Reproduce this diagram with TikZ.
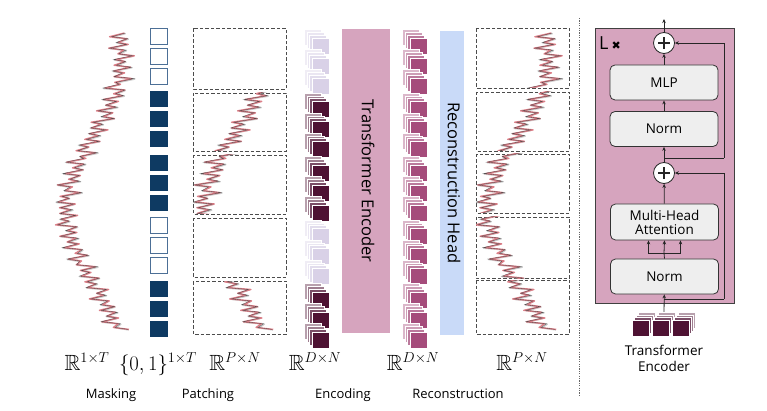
\documentclass[tikz,border=0pt]{standalone}
\usepackage{amssymb}
\usepackage{fontspec}
\setmainfont{Open Sans}
\newfontfamily\djv{DejaVu Sans}
\usetikzlibrary{arrows.meta}
\definecolor{maskblue}{HTML}{0E3A62}
\definecolor{maskedge}{HTML}{4C6F96}
\definecolor{cubedark}{HTML}{4E1233}
\definecolor{cubelight}{HTML}{D9D1E7}
\definecolor{cuberec}{HTML}{A54C7B}
\definecolor{encpink}{HTML}{D6A4BE}
\definecolor{headblue}{HTML}{C9DAF8}
\definecolor{boxgray}{HTML}{EEEEEE}
\definecolor{sigred}{HTML}{DC7F88}
\newcommand\cubestack[3]{%
  \filldraw[fill=#3!40, draw=white, line width=0.4pt] (#1-7.5,#2-8.4) rectangle ++(17,16);
  \filldraw[fill=#3!55, draw=white, line width=0.4pt] (#1-5,#2-5.6) rectangle ++(17,16);
  \filldraw[fill=#3!75, draw=white, line width=0.4pt] (#1-2.5,#2-2.8) rectangle ++(17,16);
  \filldraw[fill=#3, draw=white, line width=0.4pt] (#1,#2) rectangle ++(17,16);}
\newcommand\cubestackR[3]{%
  \filldraw[fill=#3!40, draw=white, line width=0.4pt] (#1+6,#2-7.5) rectangle ++(17,16);
  \filldraw[fill=#3!55, draw=white, line width=0.4pt] (#1+4,#2-5) rectangle ++(17,16);
  \filldraw[fill=#3!75, draw=white, line width=0.4pt] (#1+2,#2-2.5) rectangle ++(17,16);
  \filldraw[fill=#3, draw=white, line width=0.4pt] (#1,#2) rectangle ++(17,16);}
\newcommand\patchsig[4]{%
  \begin{scope}
    \clip (#1,#2) rectangle (#1+93,#3);
    \draw[sigshade] plot[variable=\k, domain=0:104, samples=105] ({#4+1.1*(sxb(\k)-66)+0.6}, {sy(\k)+0.6});
    \draw[sigpink] plot[variable=\k, domain=0:104, samples=105] ({#4+1.1*(sx(\k)-66)}, {sy(\k)});
    \draw[sigdark] plot[variable=\k, domain=0:104, samples=105] ({#4+1.1*(sxb(\k)-66)}, {sy(\k)});
  \end{scope}}
\tikzset{
  sigshade/.style={draw=black!35, line width=1.2pt, opacity=0.6, line join=round},
  sigpink/.style={draw=sigred, line width=1.4pt, line join=round},
  sigdark/.style={draw=black!75, line width=0.35pt, opacity=0.85},
  patchbox/.style={draw=black!70, line width=0.9pt, dash pattern=on 3.5pt off 2pt},
  maskfull/.style={fill=maskblue},
  maskempty/.style={draw=maskedge, line width=0.9pt, fill=white},
  blk/.style={draw=black!80, line width=0.8pt, fill=boxgray, rounded corners=5pt,
    minimum width=108pt, minimum height=35pt, align=center, inner sep=1pt,
    font=\fontsize{13.5}{16}\selectfont},
  plusc/.style={circle, draw=black!85, line width=0.8pt, fill=white, minimum size=21pt, inner sep=0pt,
    path picture={\draw[line width=1.3pt] ([xshift=-6pt]path picture bounding box.center) -- ([xshift=6pt]path picture bounding box.center);
                  \draw[line width=1.3pt] ([yshift=-6pt]path picture bounding box.center) -- ([yshift=6pt]path picture bounding box.center);}},
  arr/.style={draw=black!85, line width=0.8pt, -{Stealth[length=4pt,width=3.5pt]}},
  ln/.style={draw=black!85, line width=0.8pt},
  mathlbl/.style={anchor=base, font=\fontsize{22}{26}\selectfont},
  txtlbl/.style={anchor=base, font=\fontsize{13}{15}\selectfont},
  vtext/.style={rotate=-90, font=\fontsize{16.5}{18}\selectfont}
}
\begin{document}
\begin{tikzpicture}[x=1pt, y=-1pt,
  declare function={sy(\k)=33+2.85*\k+0.9*mod(round(\k),2);
    tr(\y)=94+28*cos(360*((\y-30)/300-0.1));
    sx(\k)=tr(sy(\k))+(1-2*mod(round(\k),2))*11*(0.62+0.38*sin(\k*97.5))+2.2*sin(\k*53);
    sxb(\k)=sx(\k)+2.2*sin(\k*71+20);}]
\useasboundingbox (0,0) rectangle (767,411);

% long signal
\draw[sigshade] plot[variable=\k, domain=0:104, samples=105] ({sxb(\k)+0.6}, {sy(\k)+0.6});
\draw[sigpink] plot[variable=\k, domain=0:104, samples=105] ({sx(\k)}, {sy(\k)});
\draw[sigdark] plot[variable=\k, domain=0:104, samples=105] ({sxb(\k)}, {sy(\k)});

% mask squares
\foreach \g/\s in {0/maskempty,1/maskfull,2/maskfull,3/maskempty,4/maskfull}
  \foreach \i in {0,1,2}
    \path[\s] (150,28+63.3*\g+20*\i) rectangle ++(17.5,16);

% left patches
\foreach \ya/\yb in {28.5/89,93/151,155/214,218/277,281/334}
  \draw[patchbox] (193,\ya) rectangle (286,\yb);
\patchsig{193}{93}{151}{204}
\patchsig{193}{155}{214}{204}
\patchsig{193}{281}{334}{204}

% encoding stacks
\foreach \g/\c in {0/cubelight,1/cubedark,2/cubedark,3/cubelight,4/cubedark}
  \foreach \i in {0,1,2}
    {\cubestack{312}{38+63.5*\g+20*\i}{\c}}

% transformer encoder block
\node[fill=encpink, minimum width=48pt, minimum height=304pt, inner sep=0] (enc) at (366,181) {};
\node[vtext] (enctxt) at (368,181) {Transformer Encoder};

% reconstruction stacks
\foreach \g in {0,...,4}
  \foreach \i in {0,1,2}
    {\cubestack{410}{38+63.5*\g+20*\i}{cuberec}}

% reconstruction head
\node[fill=headblue, minimum width=24pt, minimum height=304pt, inner sep=0] (head) at (452,183) {};
\node[vtext] (headtxt) at (454,183) {Reconstruction Head};

% right patches
\foreach \ya/\yb in {28.5/88,92/151,154/213,217/278,280/334}
  \draw[patchbox] (476,\ya) rectangle (569,\yb);
\patchsig{476}{28.5}{88}{487}
\patchsig{476}{92}{151}{487}
\patchsig{476}{154}{213}{487}
\patchsig{476}{217}{278}{487}
\patchsig{476}{280}{334}{487}

% separator
\draw[black!60, line width=0.8pt, dash pattern=on 1.2pt off 1.2pt] (579,18) -- (579,396);

% bottom labels
\node[mathlbl] (m1) at (87,370) {$\mathbb{R}^{1\times T}$};
\node[mathlbl] (m2) at (158,370) {$\{0,1\}^{1\times T}$};
\node[mathlbl] (m3) at (235,370) {$\mathbb{R}^{P\times N}$};
\node[mathlbl] (m4) at (315,370) {$\mathbb{R}^{D\times N}$};
\node[mathlbl] (m5) at (413,370) {$\mathbb{R}^{D\times N}$};
\node[mathlbl] (m6) at (522,370) {$\mathbb{R}^{P\times N}$};
\node[txtlbl] (t1) at (111,398) {Masking};
\node[txtlbl] (t2) at (208,398) {Patching};
\node[txtlbl] (t3) at (343,398) {Encoding};
\node[txtlbl] (t4) at (458,398) {Reconstruction};

% right panel
\draw[fill=encpink, draw=black!75, line width=0.8pt] (595,28) rectangle (734,303);
\node[anchor=west, inner sep=0] (lx) at (599,43) {\fontsize{18}{18}\selectfont L\,{\djv\fontsize{11}{11}\selectfont ✖}};
\node[plusc] (p1) at (664,43) {};
\node[blk] (mlp) at (664,82.5) {MLP};
\node[blk] (norm1) at (664,129) {Norm};
\node[plusc] (p2) at (664,173) {};
\node[blk, minimum height=36pt] (mha) at (664.5,222) {Multi-Head\\[-2pt]Attention};
\node[blk] (norm2) at (664.5,276.5) {Norm};

\coordinate (out) at (664,19);
\coordinate (s1) at (664,158);
\coordinate (s1r) at (724,158);
\coordinate (s2) at (664,299);
\coordinate (s2r) at (724,299);
\coordinate (branch) at (664,253);
\coordinate (inp) at (664,313);

\draw[arr] (p1) -- (out);
\draw[arr] (mlp) -- (p1);
\draw[arr] (norm1) -- (mlp);
\draw[arr] (p2) -- (norm1);
\draw[arr] (s1r) |- (p1.east);
\draw[ln] (s1) -- (s1r);
\draw[arr] (mha) -- (p2);
\draw[ln] (norm2.north) -- (branch);
\draw[arr] (branch) -- (mha.south);
\draw[arr] (branch) -| ([xshift=-16pt]mha.south);
\draw[arr] (branch) -| ([xshift=16pt]mha.south);
\draw[arr] (inp) -- (norm2);
\draw[ln] (s2) -- (s2r);
\draw[arr] (s2r) |- (p2.east);

% input cubes
\foreach \xx in {632,652,672}
  {\cubestackR{\xx}{320}{cubedark}}
\node[align=center, font=\fontsize{13.5}{16}\selectfont] (enclab) at (664,358) {Transformer\\Encoder};
\end{tikzpicture}
\end{document}
